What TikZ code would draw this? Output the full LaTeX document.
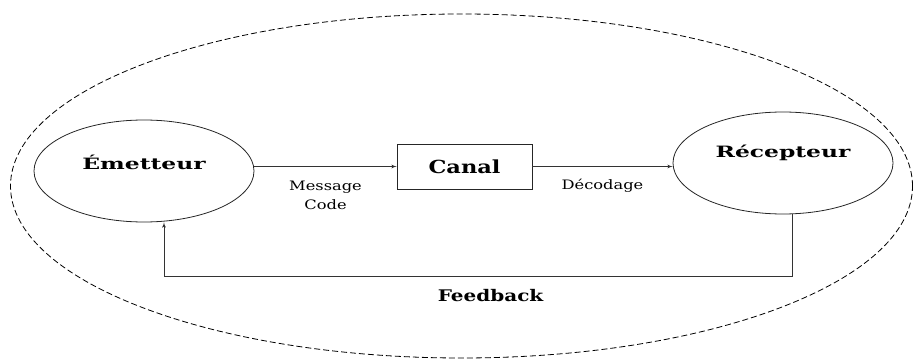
\documentclass[tikz,border=0pt]{standalone}
\usepackage{fontspec}
\newfontfamily\widefont[FakeStretch=1.5]{DejaVu Serif}
\newfontfamily\midfont[FakeStretch=1.25]{DejaVu Serif}
\usepackage{tikz}
\usetikzlibrary{arrows,shapes}
\usetikzlibrary{positioning}
\tikzstyle{actor}=[ellipse,draw=black!85,thick,minimum width=220pt,minimum height=102pt,inner sep=0pt]
\tikzstyle{actorname}=[font=\widefont\bfseries\fontsize{15.6}{18}\selectfont]
\tikzstyle{chan}=[rectangle,draw=black!85,thick,minimum width=135pt,minimum height=45pt,
                font=\midfont\bfseries\fontsize{18}{20}\selectfont]
\tikzstyle{flow}=[draw=black!80,thick,->,>=latex']
\tikzstyle{small}=[font=\midfont\fontsize{13}{19}\selectfont,align=center]
\begin{document}
\begin{tikzpicture}[x=1pt,y=1pt]
\useasboundingbox (0,0) rectangle (915,359);
\draw [dashed,thick,dash pattern=on 6pt off 3pt] (461.5,173) ellipse (451pt and 172pt);
\node [actor] (emit) at (144,188) {};
\node [actorname] (emittxt) at ([yshift=9pt]emit.center) {Émetteur};
\node [chan] (canal) at (464.5,192.5) {Canal};
\node [actor] (recv) at (783,196) {};
\node [actorname] (recvtxt) at ([yshift=10pt]recv.center) {Récepteur};
\path [flow] (emit.east |- canal.west) -- (canal.west)
  node [small,midway,below=11pt] (msg) {Message\\Code};
\path [flow] (canal.east) -- (recv.west |- canal.east)
  node [small,midway,below=9pt] (dec) {Décodage};
\path [flow] ([xshift=9pt]recv.south) -- ++(0,-62) -| ([xshift=20pt]emit.south)
  node [pos=0.24,below=9pt,font=\midfont\bfseries\fontsize{16}{18}\selectfont] (fb) {Feedback};
\end{tikzpicture}
\end{document}
